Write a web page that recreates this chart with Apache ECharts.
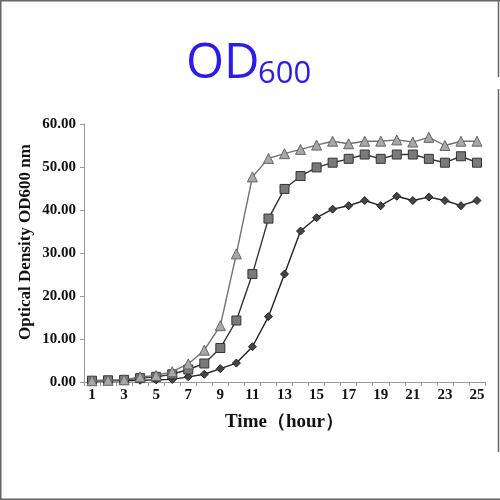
<!DOCTYPE html>
<html><head><meta charset="utf-8">
<script src="https://cdn.jsdelivr.net/npm/echarts@6/dist/echarts.min.js"></script>
<style>html,body{margin:0;padding:0;background:#fff}#c{width:500px;height:500px}</style>
</head><body><div id="c"></div>
<script>
const hours = ['1','2','3','4','5','6','7','8','9','10','11','12','13','14','15','16','17','18','19','20','21','22','23','24','25'];
const triangleSeries = [0.3,0.4,0.5,1.2,1.5,2.4,4.2,7.4,13.1,29.8,47.7,52.0,53.1,54.1,55.1,56.0,55.4,56.0,56.0,56.3,55.8,56.9,55.0,56.0,56.0];
const squareSeries = [0.3,0.4,0.5,0.9,1.2,1.8,2.9,4.3,7.9,14.3,25.1,38.0,44.9,47.9,49.9,51.0,51.9,52.9,51.9,52.9,52.9,51.9,51.0,52.5,51.0];
const diamondSeries = [0.2,0.3,0.3,0.4,0.5,0.6,1.2,1.8,3.1,4.4,8.2,15.2,25.1,35.1,38.2,40.2,41.0,42.2,41.0,43.2,42.2,43.0,42.2,41.0,42.2];
const yTicks = [0,10,20,30,40,50,60];

const chart = echarts.init(document.getElementById('c'));
const serif = '"Liberation Serif", "Times New Roman", serif';
chart.setOption({
  animation: false,
  grid: {left: 84, right: 15, top: 124, bottom: 118},
  xAxis: {
    type: 'category', data: hours, boundaryGap: true,
    name: 'Time（hour）', nameLocation: 'middle', nameGap: 31,
    nameTextStyle: {fontFamily: serif, fontWeight: 'bold', fontSize: 19, color: '#111'},
    axisLine: {lineStyle: {color: '#9a9a9a', width: 1}},
    axisTick: {show: true, interval: 0, length: 4, lineStyle: {color: '#9a9a9a'}},
    axisLabel: {interval: 1, fontFamily: serif, fontWeight: 'bold', fontSize: 15, color: '#111', margin: 6}
  },
  yAxis: {
    type: 'value', min: yTicks[0], max: yTicks[yTicks.length-1], interval: 10,
    axisLine: {show: true, lineStyle: {color: '#9a9a9a', width: 1}},
    axisTick: {show: true, length: 4, lineStyle: {color: '#9a9a9a'}},
    splitLine: {show: false},
    axisLabel: {fontFamily: serif, fontWeight: 'bold', fontSize: 15, color: '#111', margin: 8,
      formatter: v => v.toFixed(2)}
  },
  series: [
    {type: 'line', data: diamondSeries, symbol: 'diamond', symbolSize: 8,
      lineStyle: {color: '#222', width: 1.4}, itemStyle: {color: '#444', borderColor: '#222', borderWidth: 1}, z: 3},
    {type: 'line', data: squareSeries, symbol: 'rect', symbolSize: 9,
      lineStyle: {color: '#333', width: 1.4}, itemStyle: {color: '#7a7a7a', borderColor: '#333', borderWidth: 1}, z: 4},
    {type: 'line', data: triangleSeries, symbol: 'triangle', symbolSize: 10,
      lineStyle: {color: '#707070', width: 1.4}, itemStyle: {color: '#a8a8a8', borderColor: '#666', borderWidth: 1}, z: 5}
  ],
  graphic: [
    {type: 'text', left: 186, top: 40, style: {text: 'OD', font: '49px "Open Sans", "Noto Sans", sans-serif', fill: '#2b1de6'}},
    {type: 'text', left: 258, top: 59, style: {text: '600', font: '31px "Open Sans", "Noto Sans", sans-serif', fill: '#2b1de6'}},
    {type: 'text', x: 26, y: 242, rotation: Math.PI / 2,
      style: {text: 'Optical Density OD600 nm', font: 'bold 17px "Liberation Serif", serif', fill: '#111', align: 'center', verticalAlign: 'middle'}},
    {type: 'line', shape: {x1: 0, y1: 0.5, x2: 500, y2: 0.5}, style: {stroke: '#666', lineWidth: 2}},
    {type: 'line', shape: {x1: 0.5, y1: 0, x2: 0.5, y2: 500}, style: {stroke: '#666', lineWidth: 2}},
    {type: 'line', shape: {x1: 0, y1: 499.5, x2: 500, y2: 499.5}, style: {stroke: '#666', lineWidth: 2}},
    {type: 'line', shape: {x1: 498.5, y1: 0, x2: 498.5, y2: 77}, style: {stroke: '#666', lineWidth: 1.5}},
    {type: 'line', shape: {x1: 498.5, y1: 89, x2: 498.5, y2: 452}, style: {stroke: '#666', lineWidth: 1.5}}
  ]
});
</script></body></html>
